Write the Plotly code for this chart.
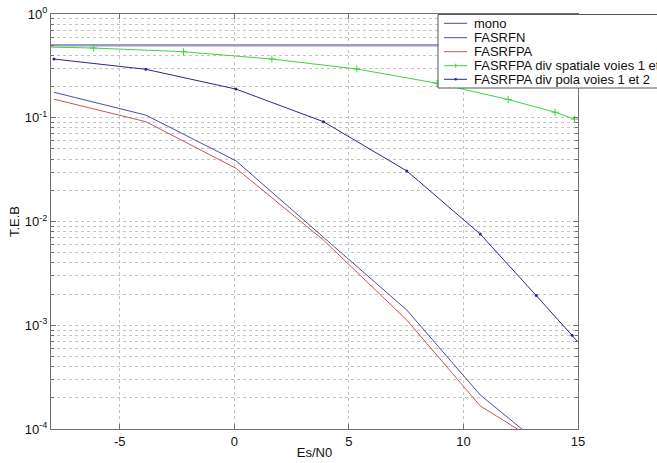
import plotly.graph_objects as go

# ---- data ----
mono_x = [-8, 15]
mono_y = [0.5, 0.5]

grid_x = [-7.87, -3.86, 0.07, 3.89, 7.53, 10.73, 13.18]
fasrfn_y = [0.176, 0.106, 0.0385, 0.00705, 0.00140, 0.000213, 0.000077]
fasrfpa_y = [0.151, 0.0916, 0.0326, 0.00663, 0.00112, 0.000167, 0.000077]

pola_x = [-7.87, -3.86, 0.07, 3.89, 7.53, 10.73, 13.18, 14.74, 15.6]
pola_y = [0.368, 0.293, 0.189, 0.0916, 0.0307, 0.00758, 0.00193, 0.00080, 0.00049]

spat_x = [-9.9, -6.15, -2.22, 1.64, 5.35, 8.85, 11.95, 14.0, 14.85]
spat_y = [0.49, 0.470, 0.433, 0.368, 0.295, 0.215, 0.150, 0.113, 0.097]

names = ["mono", "FASRFN", "FASRFPA",
         "FASRFPA div spatiale voies 1 et 2", "FASRFPA div pola voies 1 et 2"]
colors = ["#9a9ac8", "#4d4d9e", "#c25a4e", "#3fd33f", "#28288a"]

xticks = [-5, 0, 5, 10, 15]
xtick_text = ["-5", "0", "5", "10", "15"]
ytick_vals = [1e-4, 1e-3, 1e-2, 1e-1, 1]
ytick_text = ["10<sup>-4</sup>", "10<sup>-3</sup>", "10<sup>-2</sup>",
              "10<sup>-1</sup>", "10<sup>0</sup>"]
minor_vals = [k * 10.0 ** e for e in range(-4, 0) for k in range(2, 10)]

FONT = "Liberation Sans, Arial, sans-serif"

fig = go.Figure()
fig.add_trace(go.Scatter(x=mono_x, y=mono_y, mode="lines",
                         line=dict(color=colors[0], width=2.5), name=names[0]))
fig.add_trace(go.Scatter(x=grid_x, y=fasrfn_y, mode="lines",
                         line=dict(color=colors[1], width=1), name=names[1]))
fig.add_trace(go.Scatter(x=grid_x, y=fasrfpa_y, mode="lines",
                         line=dict(color=colors[2], width=1), name=names[2]))
fig.add_trace(go.Scatter(x=spat_x, y=spat_y, mode="lines+markers",
                         line=dict(color=colors[3], width=1),
                         marker=dict(symbol="cross-thin", size=5,
                                     line=dict(color=colors[3], width=1)),
                         name=names[3]))
fig.add_trace(go.Scatter(x=pola_x, y=pola_y, mode="lines+markers",
                         line=dict(color=colors[4], width=1),
                         marker=dict(symbol="circle", size=3, color=colors[4]),
                         name=names[4]))

# ---- plot geometry (pixels) ----
W, H = 657, 463
L, R, T, B = 51, 578, 14, 429
pw, ph = R - L, B - T


def px(x):
    return (x - L) / pw


def py(y):
    return (B - y) / ph


# ---- manual legend (MATLAB style, clipped by figure edge) ----
shapes = [dict(type="rect", xref="paper", yref="paper",
               x0=px(438), x1=px(700), y0=py(88), y1=py(14.5),
               line=dict(color="#555555", width=1), fillcolor="white",
               layer="above")]
annots = []
rows = [23.3, 37.7, 51.7, 65.7, 79.3]
for i, (nm, c, ry) in enumerate(zip(names, colors, rows)):
    lc = c if i != 0 else "#4d4d9e"
    shapes.append(dict(type="line", xref="paper", yref="paper",
                       x0=px(444), x1=px(467), y0=py(ry), y1=py(ry),
                       line=dict(color=lc, width=1), layer="above"))
    annots.append(dict(text=nm, xref="paper", yref="paper",
                       x=px(472), y=py(ry), xanchor="left", yanchor="middle",
                       showarrow=False,
                       font=dict(family=FONT, size=13, color="#111111")))
# legend markers
cx = 455.7
shapes.append(dict(type="line", xref="paper", yref="paper",
                   x0=px(cx), x1=px(cx), y0=py(rows[3] - 2), y1=py(rows[3] + 2),
                   line=dict(color=colors[3], width=1), layer="above"))
shapes.append(dict(type="circle", xref="paper", yref="paper",
                   x0=px(cx - 1.3), x1=px(cx + 1.3),
                   y0=py(rows[4] + 1.3), y1=py(rows[4] - 1.3),
                   fillcolor=colors[4], line=dict(color=colors[4], width=0),
                   layer="above"))

grid_style = dict(showgrid=True, gridcolor="#c4c4c4", griddash="dot", gridwidth=1)

fig.update_layout(
    width=W, height=H,
    margin=dict(l=L, r=W - R, t=T, b=H - B),
    paper_bgcolor="white", plot_bgcolor="white",
    showlegend=False,
    font=dict(family=FONT, size=13, color="#111111"),
    shapes=shapes, annotations=annots,
    xaxis=dict(range=[-8, 15], tickmode="array", tickvals=xticks,
               ticktext=xtick_text, automargin=False,
               ticklabeloverflow="allow",
               ticks="inside", ticklen=5, tickcolor="#707070",
               showline=True, linecolor="#707070", linewidth=1, mirror="ticks",
               zeroline=False,
               title=dict(text="Es/N0", standoff=0,
                          font=dict(family=FONT, size=13)),
               tickfont=dict(family=FONT, size=13),
               **grid_style),
    yaxis=dict(type="log", range=[-4, 0], tickmode="array",
               tickvals=ytick_vals, ticktext=ytick_text, automargin=False,
               ticklabeloverflow="allow",
               ticks="inside", ticklen=5, tickcolor="#707070",
               showline=True, linecolor="#707070", linewidth=1, mirror="ticks",
               zeroline=False,
               title=dict(text="T.E.B", standoff=2,
                          font=dict(family=FONT, size=13)),
               tickfont=dict(family=FONT, size=13),
               minor=dict(tickmode="array", tickvals=minor_vals,
                          ticks="inside", ticklen=3, tickcolor="#707070",
                          showgrid=True, gridcolor="#c4c4c4", griddash="dot",
                          gridwidth=1),
               **grid_style),
)

fig.write_html("out.html",
               config={"displayModeBar": False},
               post_script="document.body.style.margin='0';"
                           "document.body.style.overflow='hidden';")
